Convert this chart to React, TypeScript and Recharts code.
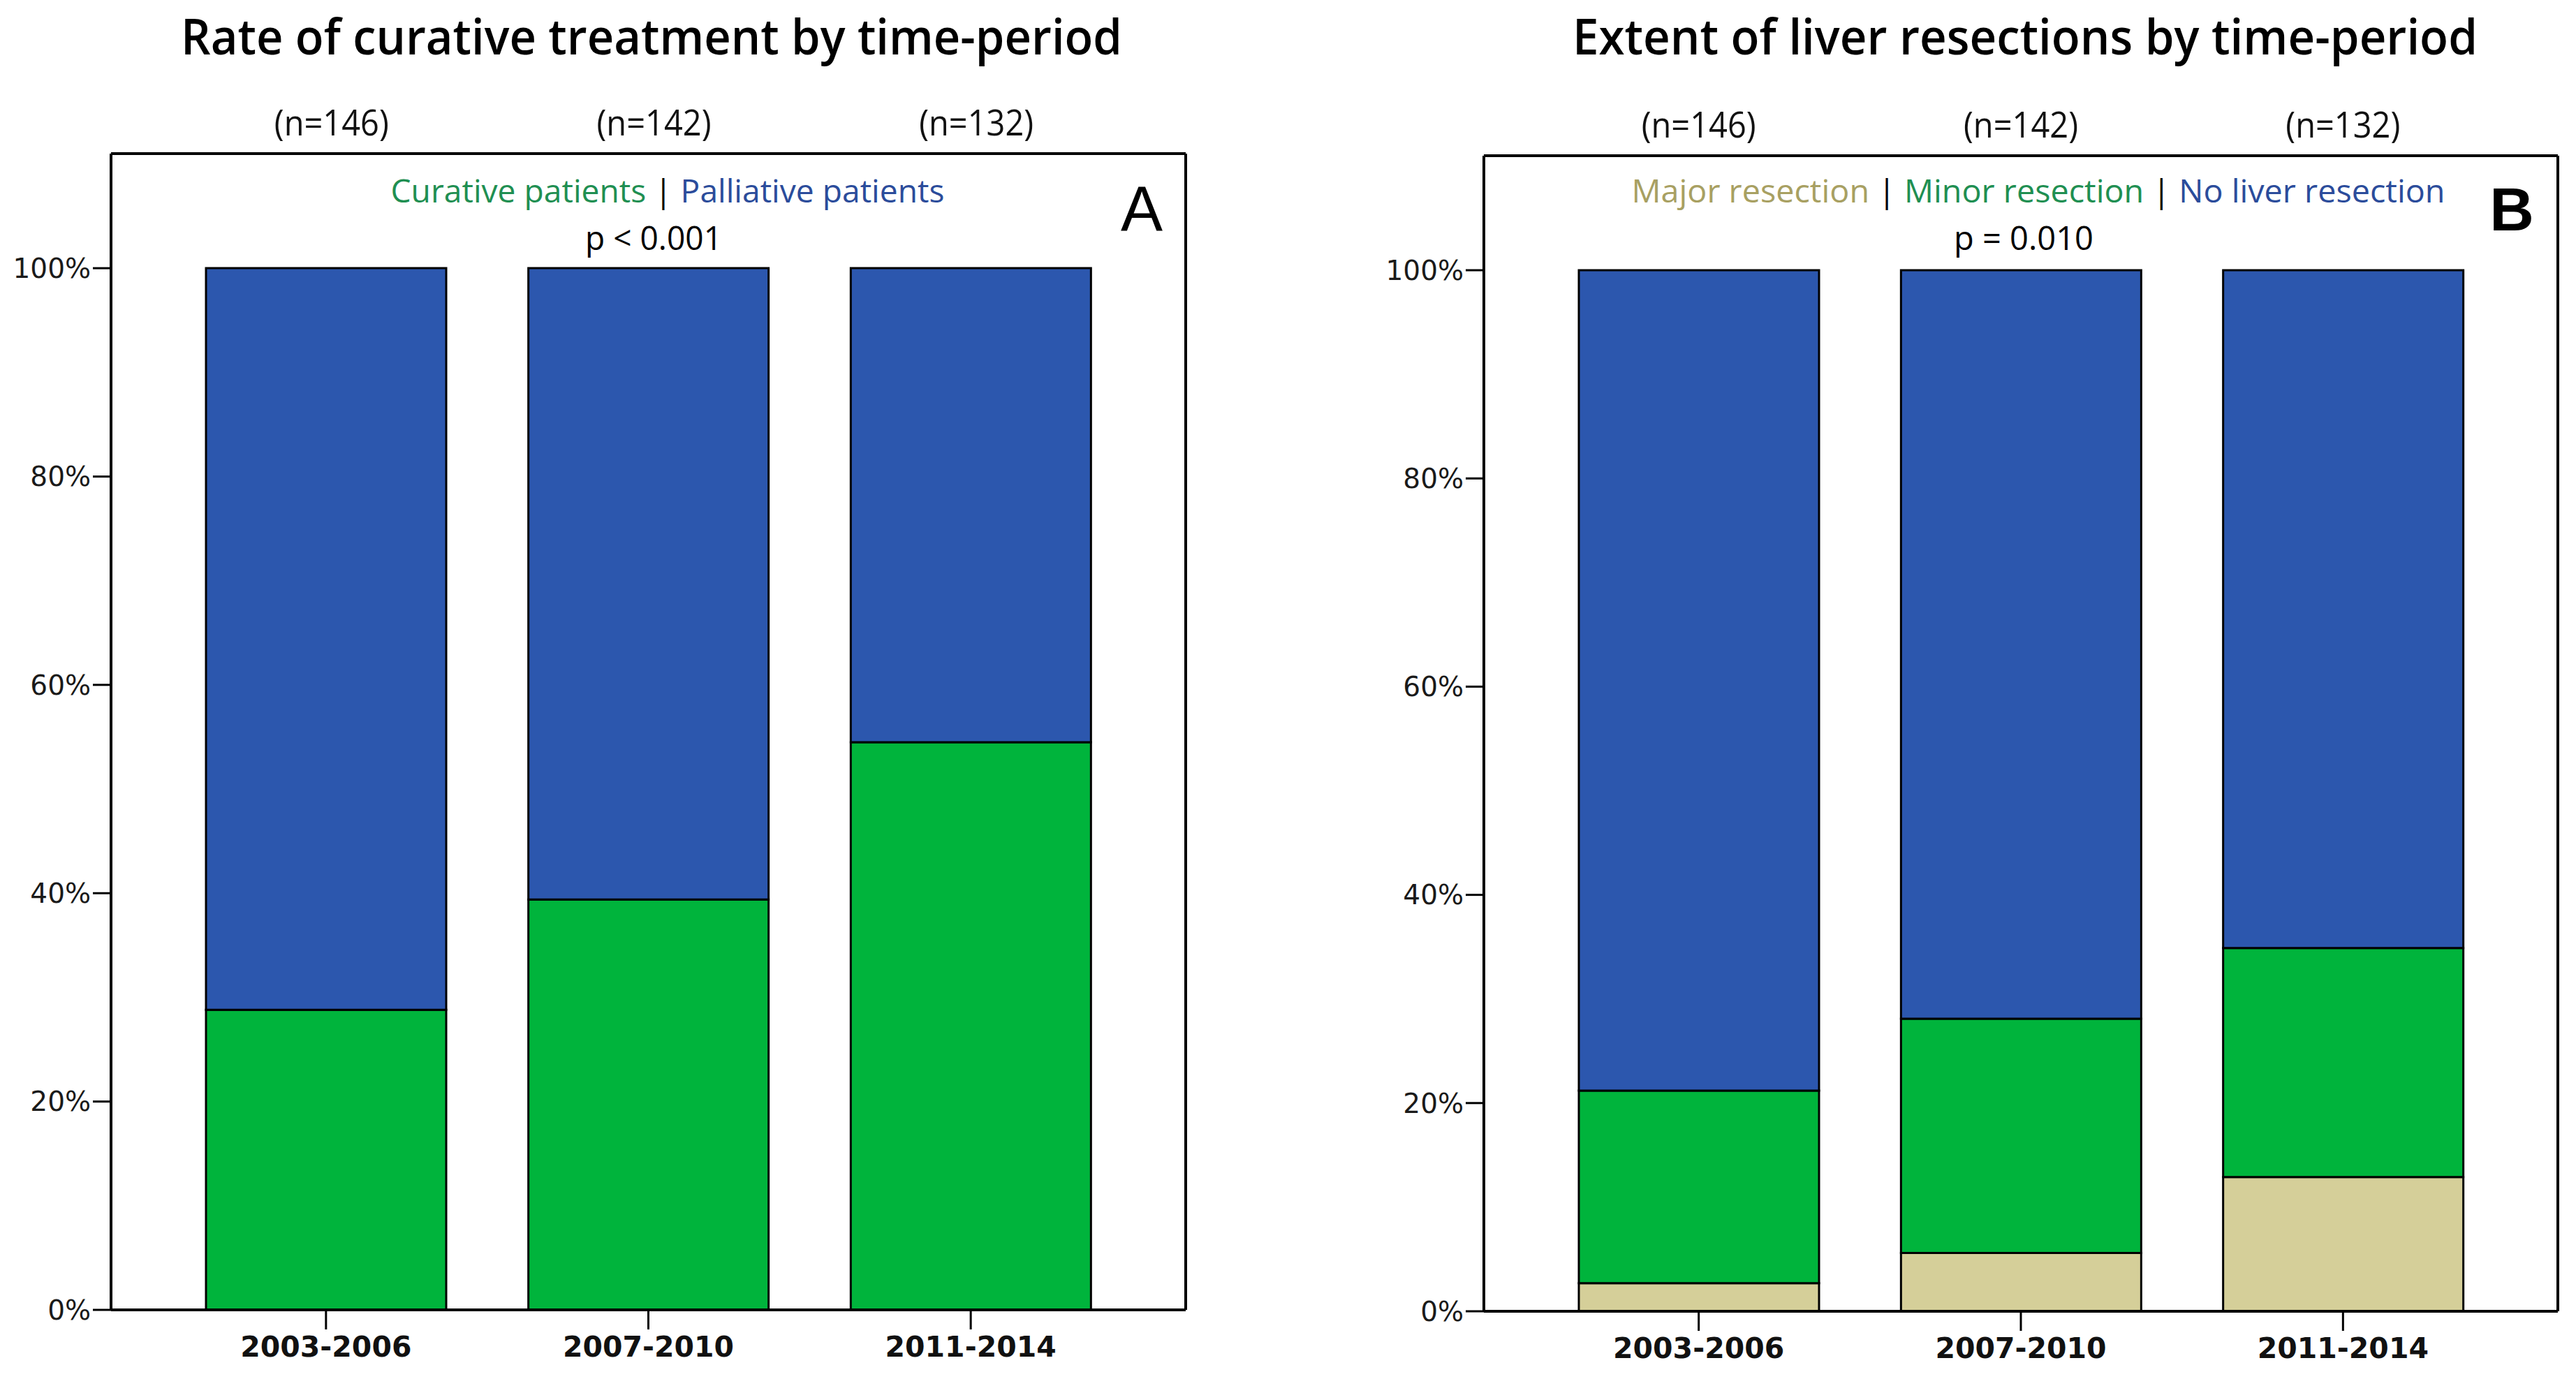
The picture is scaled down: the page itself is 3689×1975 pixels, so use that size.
import React from "react";
import { BarChart, Bar, XAxis, YAxis } from "recharts";

// time periods and group sizes
const periods = ["2003-2006", "2007-2010", "2011-2014"];
const nLabels = ["(n=146)", "(n=142)", "(n=132)"];

// panel A: curative vs palliative (%)
const curative = [28.8, 39.4, 54.5];
const palliative = [71.2, 60.6, 45.5];

// panel B: extent of liver resection (%)
const majorRes = [2.7, 5.6, 12.9];
const minorRes = [18.5, 22.5, 22.0];
const noRes = [78.8, 71.9, 65.1];

const yTicks = [0, 20, 40, 60, 80, 100];

const BLUE = "#2C57AE";
const GREEN = "#00B43C";
const TAN = "#D5CF99";

const dataA = periods.map((p, i) => ({
  period: p,
  n: nLabels[i],
  curative: curative[i],
  palliative: palliative[i],
}));

const dataB = periods.map((p, i) => ({
  period: p,
  n: nLabels[i],
  major: majorRes[i],
  minor: minorRes[i],
  none: noRes[i],
}));

const NTick = (props: any) => {
  const { x, y, payload, shift } = props;
  return (
    <text
      x={x + (shift || 0)}
      y={y - 26}
      textAnchor="middle"
      fontFamily="Open Sans, Noto Sans, sans-serif"
      fontSize={52}
      fill="#111"
      textLength={164}
      lengthAdjust="spacingAndGlyphs"
    >
      {payload.value}
    </text>
  );
};

interface PanelProps {
  data: any[];
  series: { key: string; color: string }[];
  left: number;
  width: number;
  margin: { top: number; right: number; bottom: number; left: number };
  nShift: number;
}

function Panel({ data, series, left, width, margin, nShift }: PanelProps) {
  return (
    <div style={{ position: "absolute", left, top: 0, width, height: 1975 }}>
      <BarChart width={width} height={1975} data={data} margin={margin} barSize={344}>
        <XAxis
          dataKey="period"
          padding={{ left: 77, right: 77 }}
          height={90}
          axisLine={{ stroke: "#000", strokeWidth: 4 }}
          tickLine={{ stroke: "#000", strokeWidth: 3 }}
          tickSize={28}
          tickMargin={10}
          tick={{ fontSize: 41, fontWeight: "bold", fontFamily: "DejaVu Sans", fill: "#111" }}
        />
        <XAxis
          xAxisId="top"
          orientation="top"
          dataKey="n"
          padding={{ left: 77, right: 77 }}
          height={100}
          axisLine={{ stroke: "#000", strokeWidth: 4 }}
          tickLine={false}
          tickSize={0}
          tickMargin={0}
          tick={<NTick shift={nShift} />}
        />
        <YAxis
          type="number"
          domain={[0, 111]}
          ticks={yTicks}
          allowDataOverflow
          width={140}
          axisLine={{ stroke: "#000", strokeWidth: 4 }}
          tickLine={{ stroke: "#000", strokeWidth: 3 }}
          tickSize={26}
          tickMargin={3}
          tickFormatter={(v: number) => `${v}%`}
          tick={{ fontSize: 39, fontFamily: "DejaVu Sans", fill: "#1a1a1a" }}
        />
        <YAxis
          yAxisId="right"
          orientation="right"
          type="number"
          domain={[0, 111]}
          width={10}
          tick={false}
          tickLine={false}
          axisLine={{ stroke: "#000", strokeWidth: 4 }}
        />
        {series.map((s) => (
          <Bar
            key={s.key}
            dataKey={s.key}
            stackId="a"
            fill={s.color}
            stroke="#000"
            strokeWidth={3}
            isAnimationActive={false}
          />
        ))}
      </BarChart>
    </div>
  );
}

const titleFont = "Open Sans, Noto Sans, sans-serif";

export default function App() {
  return (
    <div style={{ position: "relative", width: 3689, height: 1975, background: "#fff" }}>
      <style>{"body{margin:0;background:#fff}"}</style>
      <Panel
        data={dataA}
        series={[
          { key: "curative", color: GREEN },
          { key: "palliative", color: BLUE },
        ]}
        left={0}
        width={1844}
        margin={{ top: 120, right: 136, bottom: 9, left: 19 }}
        nShift={8}
      />
      <Panel
        data={dataB}
        series={[
          { key: "major", color: TAN },
          { key: "minor", color: GREEN },
          { key: "none", color: BLUE },
        ]}
        left={1844}
        width={1845}
        margin={{ top: 123, right: 16, bottom: 7, left: 141 }}
        nShift={0}
      />
      <svg
        width={3689}
        height={1975}
        style={{ position: "absolute", left: 0, top: 0, pointerEvents: "none" }}
      >
        <text x={933} y={78} textAnchor="middle" fontFamily={titleFont} fontSize={70} fontWeight={600} fill="#000"
          textLength={1348} lengthAdjust="spacingAndGlyphs">
          Rate of curative treatment by time-period
        </text>
        <text x={2900} y={78} textAnchor="middle" fontFamily={titleFont} fontSize={70} fontWeight={600} fill="#000"
          textLength={1296} lengthAdjust="spacingAndGlyphs">
          Extent of liver resections by time-period
        </text>

        <text x={956} y={290} textAnchor="middle" fontFamily={titleFont} fontSize={45}
          textLength={793} lengthAdjust="spacingAndGlyphs">
          <tspan fill="#1F8F52">Curative patients</tspan>
          <tspan fill="#000"> | </tspan>
          <tspan fill="#2B4C9B">Palliative patients</tspan>
        </text>
        <text x={2919} y={290} textAnchor="middle" fontFamily={titleFont} fontSize={45}
          textLength={1165} lengthAdjust="spacingAndGlyphs">
          <tspan fill="#A8A062">Major resection</tspan>
          <tspan fill="#000"> | </tspan>
          <tspan fill="#1F8F52">Minor resection</tspan>
          <tspan fill="#000"> | </tspan>
          <tspan fill="#2B4C9B">No liver resection</tspan>
        </text>

        <text x={936} y={358} textAnchor="middle" fontFamily={titleFont} fontSize={47} fill="#000"
          textLength={196} lengthAdjust="spacingAndGlyphs">
          p &lt; 0.001
        </text>
        <text x={2898} y={358} textAnchor="middle" fontFamily={titleFont} fontSize={47} fill="#000"
          textLength={200} lengthAdjust="spacingAndGlyphs">
          p = 0.010
        </text>

        <text x={1635} y={330} textAnchor="middle" fontFamily="Liberation Sans, Arial, sans-serif" fontSize={90} fill="#000">
          A
        </text>
        <text x={3597} y={330} textAnchor="middle" fontFamily="Liberation Sans, Arial, sans-serif" fontSize={88} fontWeight="bold" fill="#000">
          B
        </text>
      </svg>
    </div>
  );
}
